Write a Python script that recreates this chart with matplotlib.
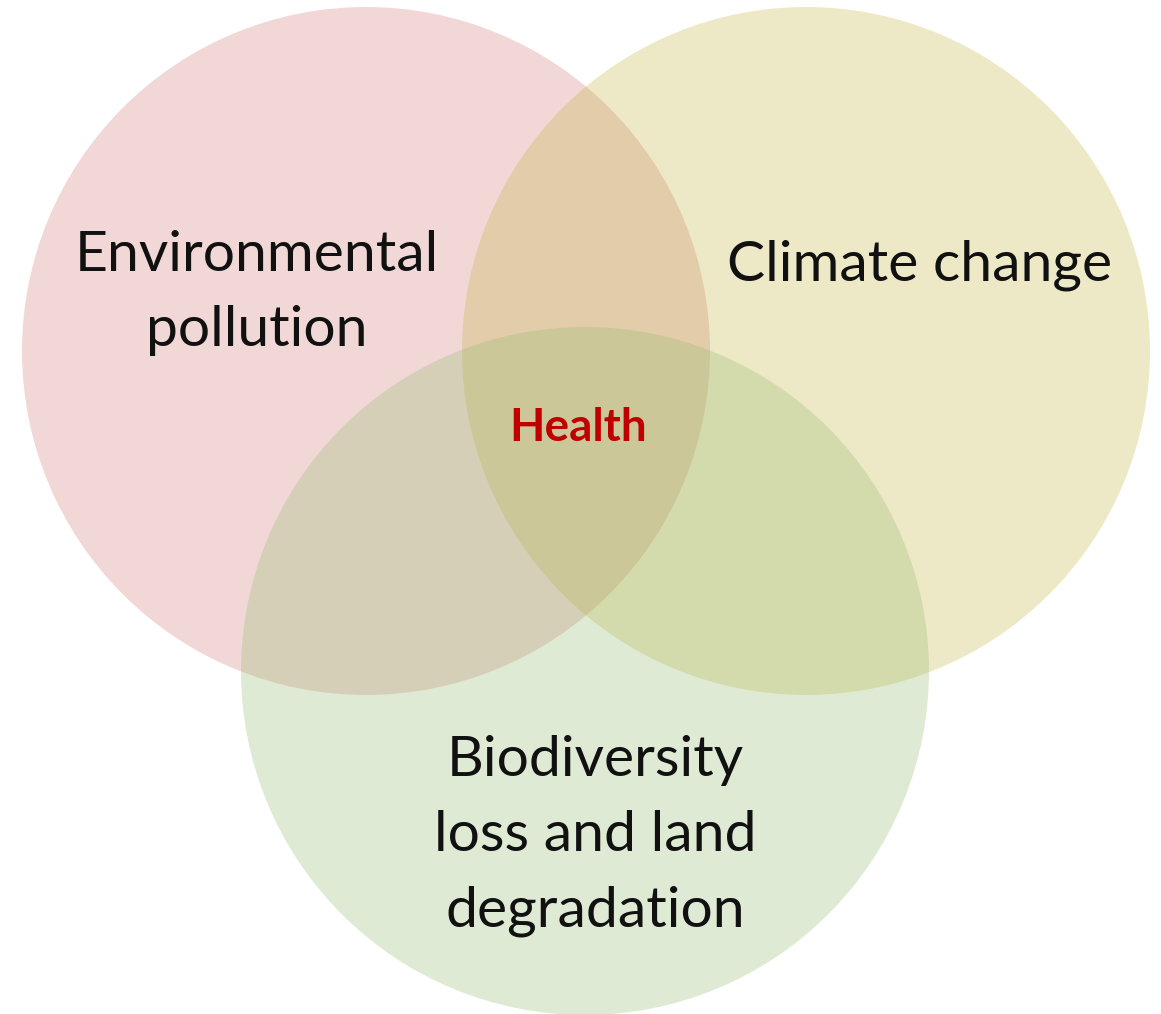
import matplotlib.pyplot as plt
from matplotlib.patches import Circle

labels = ["Environmental\npollution", "Climate change",
          "Biodiversity\nloss and land\ndegradation"]
centre_label = "Health"

# circle centres and radius in picture pixels
cx = [366, 806, 585]
cy = [351, 351, 671]
radius = 344
colors = ["#C0504D", "#BBAB22", "#98BC73"]
alphas = [0.22, 0.25, 0.30]

label_x = [257, 920, 595]
label_y = [293, 265, 836]

plt.rcParams['font.family'] = ['Lato', 'DejaVu Sans']

fig = plt.figure(figsize=(11.61, 10.14), dpi=100)
ax = fig.add_axes([0, 0, 1, 1])
ax.set_xlim(0, 1161)
ax.set_ylim(1014, 0)
ax.set_aspect('equal')
ax.axis('off')

for x, y, c, a in zip(cx, cy, colors, alphas):
    ax.add_patch(Circle((x, y), radius, facecolor=c, alpha=a, edgecolor='none'))

for t, x, y in zip(labels, label_x, label_y):
    ax.text(x, y, t, ha='center', va='center', fontsize=41,
            linespacing=1.6, color='#111111')

ax.text(578, 428, centre_label, ha='center', va='center', fontsize=33,
        fontweight='bold', color='#C00000')

fig.savefig("out.png", dpi=100)
